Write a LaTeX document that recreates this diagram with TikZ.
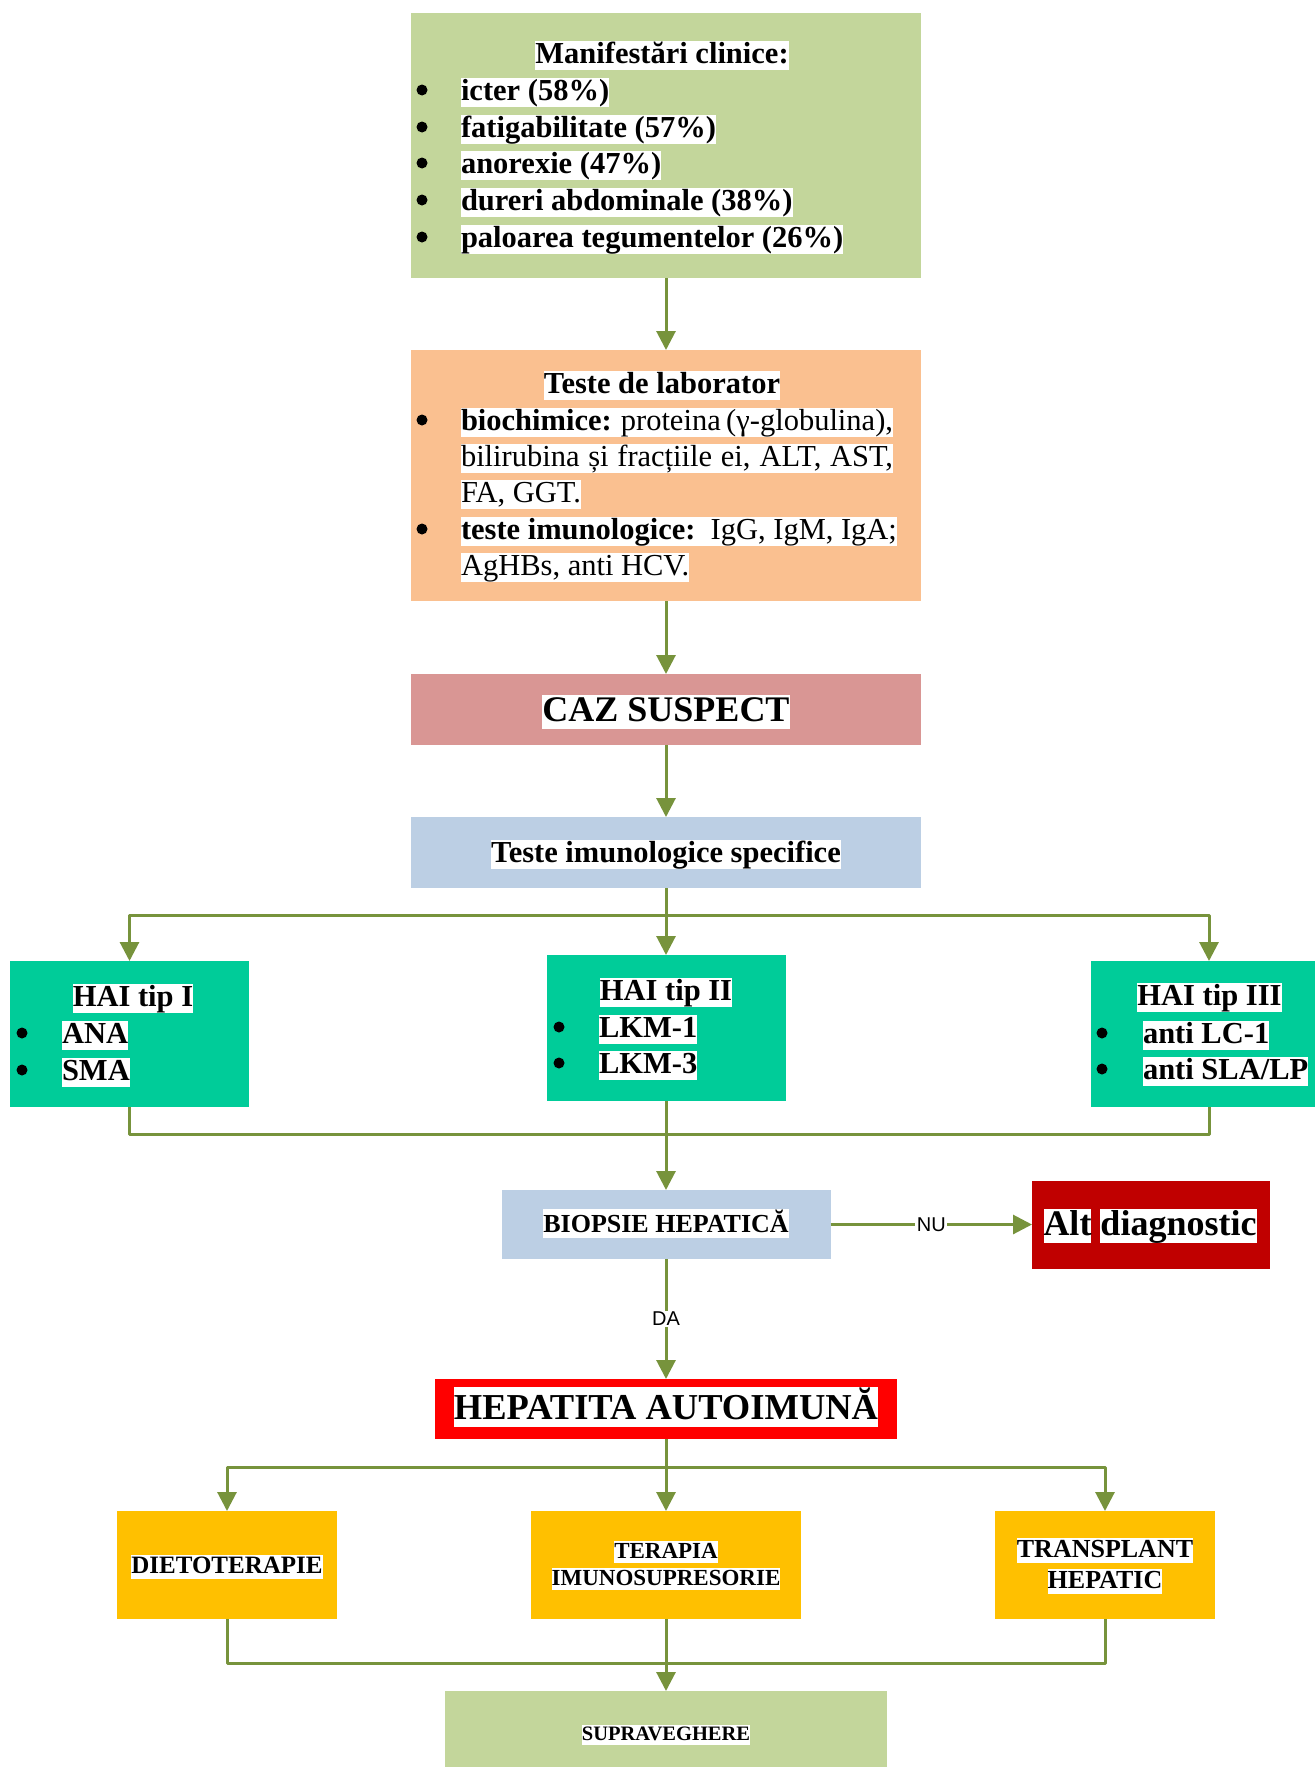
\documentclass[tikz,border=0pt]{standalone}
\usepackage{fontspec}
\setmainfont{Liberation Serif}
\newfontfamily\arialf{Liberation Sans}
\usetikzlibrary{arrows.meta}
\definecolor{cOlive}{HTML}{C3D69B}
\definecolor{cPeach}{HTML}{FAC090}
\definecolor{cRose}{HTML}{D99694}
\definecolor{cBlue}{HTML}{BCCFE4}
\definecolor{cTeal}{HTML}{00CC99}
\definecolor{cDark}{HTML}{C00000}
\definecolor{cRed}{HTML}{FF0000}
\definecolor{cGold}{HTML}{FFC000}
\definecolor{cLine}{HTML}{77933C}
\newcommand\hl[1]{{\setlength{\fboxsep}{0pt}\colorbox{white}{\rule[-0.22em]{0pt}{0.95em}#1}}}
\newcommand\fsz[1]{\fontsize{#1bp}{#1bp}\selectfont}
\begin{document}
\begin{tikzpicture}[x=1bp,y=-1bp,
  box/.style={draw=none, inner sep=0pt, outer sep=0pt},
  txt/.style={anchor=base, inner sep=0pt, outer sep=0pt},
  txtl/.style={anchor=base west, inner sep=0pt, outer sep=0pt},
  dot/.style={circle, fill=black, inner sep=0pt, minimum size=11bp},
  conn/.style={draw=cLine, line width=3bp, line join=round},
  arr/.style={conn, -{Triangle[length=19bp,width=19bp]}},
  lbl/.style={fill=white, inner sep=1.5bp, font=\arialf\fsz{20}},
  f30/.style={font=\fsz{30.5}},
]
\useasboundingbox (0,0) rectangle (1315,1767);

% ---------- boxes ----------
\node[box, fill=cOlive, minimum width=510bp, minimum height=265bp] (clin) at (666,145.5) {};
\node[box, fill=cPeach, minimum width=510bp, minimum height=251bp] (lab) at (666,475.5) {};
\node[box, fill=cRose, minimum width=510bp, minimum height=71bp] (caz) at (666,709.5) {};
\node[box, fill=cBlue, minimum width=510bp, minimum height=71bp] (imun) at (666,852.5) {};
\node[box, fill=cTeal, minimum width=239bp, minimum height=146bp] (hai1) at (129.5,1034) {};
\node[box, fill=cTeal, minimum width=239bp, minimum height=146bp] (hai2) at (666,1028) {};
\node[box, fill=cTeal, minimum width=236bp, minimum height=146bp] (hai3) at (1209,1034) {};
\node[box, fill=cBlue, minimum width=329bp, minimum height=69bp] (bio) at (666,1224.5) {};
\node[box, fill=cDark, minimum width=238bp, minimum height=88bp] (alt) at (1151,1224.5) {};
\node[box, fill=cRed, minimum width=462bp, minimum height=60bp] (hep) at (666,1409) {};
\node[box, fill=cGold, minimum width=220bp, minimum height=108bp] (die) at (227,1565) {};
\node[box, fill=cGold, minimum width=270bp, minimum height=108bp] (ter) at (666,1565) {};
\node[box, fill=cGold, minimum width=220bp, minimum height=108bp] (tra) at (1105,1565) {};
\node[box, fill=cOlive, minimum width=442bp, minimum height=99bp] (sup) at (666,1740.5) {};

% ---------- texts ----------
% Manifestari clinice
\node[txt, f30] (clinT) at (662,63) {\bfseries\hl{Manifestări clinice:}};
\node[dot] (clinB1) at (422,90) {};
\node[dot] (clinB2) at (422,127) {};
\node[dot] (clinB3) at (422,163) {};
\node[dot] (clinB4) at (422,200) {};
\node[dot] (clinB5) at (422,237) {};
\node[txtl, f30] (clinI1) at (461,100) {\bfseries\hl{icter (58\%)}};
\node[txtl, f30] (clinI2) at (461,137) {\bfseries\hl{fatigabilitate (57\%)}};
\node[txtl, f30] (clinI3) at (461,173) {\bfseries\hl{anorexie (47\%)}};
\node[txtl, f30] (clinI4) at (461,210) {\bfseries\hl{dureri abdominale (38\%)}};
\node[txtl, f30] (clinI5) at (461,247) {\bfseries\hl{paloarea tegumentelor (26\%)}};

% Teste de laborator
\node[txt, f30] (labT) at (662,393) {\bfseries\hl{Teste de laborator}};
\node[dot] (labB1) at (422,420) {};
\node[dot] (labB2) at (422,529) {};
\node[txtl, f30] (labL1) at (461,430) {\hl{\makebox[432bp][s]{\textbf{biochimice:} proteina (γ-globulina),}}};
\node[txtl, f30] (labL2) at (461,466) {\hl{\makebox[432bp][s]{bilirubina și fracțiile ei, ALT, AST,}}};
\node[txtl, f30] (labL3) at (461,502) {\hl{FA, GGT.}};
\node[txtl, f30] (labL4) at (461,539) {\hl{\makebox[436bp][s]{\textbf{teste imunologice:}\ \ IgG, IgM, IgA;}}};
\node[txtl, f30] (labL5) at (461,575) {\hl{AgHBs, anti HCV.}};

% single line boxes
\node[txt, font=\fsz{36}] (cazT) at (666,721) {\bfseries\hl{CAZ SUSPECT}};
\node[txt, f30] (imunT) at (666,862) {\bfseries\hl{Teste imunologice specifice}};

% HAI boxes
\node[txt, f30] (hai1T) at (133,1006) {\bfseries\hl{HAI tip I}};
\node[dot] (hai1B1) at (22,1033) {};
\node[dot] (hai1B2) at (22,1070) {};
\node[txtl, f30] (hai1I1) at (62,1043) {\bfseries\hl{ANA}};
\node[txtl, f30] (hai1I2) at (62,1080) {\bfseries\hl{SMA}};

\node[txt, f30] (hai2T) at (666,1000) {\bfseries\hl{HAI tip II}};
\node[dot] (hai2B1) at (559,1027) {};
\node[dot] (hai2B2) at (559,1063) {};
\node[txtl, f30] (hai2I1) at (599,1037) {\bfseries\hl{LKM-1}};
\node[txtl, f30] (hai2I2) at (599,1073) {\bfseries\hl{LKM-3}};

\node[txt, f30] (hai3T) at (1209.5,1005) {\bfseries\hl{HAI tip III}};
\node[dot] (hai3B1) at (1102,1033) {};
\node[dot] (hai3B2) at (1102,1069) {};
\node[txtl, f30] (hai3I1) at (1143,1043) {\bfseries\hl{anti LC-1}};
\node[txtl, f30] (hai3I2) at (1143,1079) {\bfseries\hl{anti SLA/LP}};

\node[txt, font=\fsz{26}] (bioT) at (666,1232) {\bfseries\hl{BIOPSIE HEPATICĂ}};
\node[txt, font=\fsz{36}] (altT) at (1150,1235) {\bfseries\hl{Alt} \hl{diagnostic}};
\node[txt, font=\fsz{36.5}] (hepT) at (666,1419) {\bfseries\hl{HEPATITA AUTOIMUNĂ}};

\node[txt, font=\fsz{25}] (dieT) at (227,1573) {\bfseries\hl{DIETOTERAPIE}};
\node[txt, font=\fsz{23}] (terT1) at (666,1558) {\bfseries\hl{TERAPIA}};
\node[txt, font=\fsz{23}] (terT2) at (666,1585) {\bfseries\hl{IMUNOSUPRESORIE}};
\node[txt, font=\fsz{26}] (traT1) at (1105,1557) {\bfseries\hl{TRANSPLANT}};
\node[txt, font=\fsz{26}] (traT2) at (1105,1588) {\bfseries\hl{HEPATIC}};
\node[txt, font=\fsz{20.5}] (supT) at (666,1740) {\bfseries\hl{SUPRAVEGHERE}};

% ---------- connectors ----------
\draw[arr] (clin.south) -- (lab.north);
\draw[arr] (lab.south) -- (caz.north);
\draw[arr] (caz.south) -- (imun.north);
\draw[arr] (imun.south) -- (hai2.north);
\coordinate (br1) at (666,915);
\draw[arr] (br1) -| (hai1.north);
\draw[arr] (br1) -| (hai3.north);
\coordinate (mg1) at (666,1134);
\draw[conn] (hai1.south) |- (mg1);
\draw[conn] (hai3.south) |- (mg1);
\draw[arr] (hai2.south) -- (bio.north);
\draw[arr] (bio.east) -- node[lbl] (nu) {NU} (alt.west);
\draw[arr] (bio.south) -- node[lbl] (da) {DA} (hep.north);
\draw[arr] (hep.south) -- (ter.north);
\coordinate (br2) at (666,1467);
\draw[arr] (br2) -| (die.north);
\draw[arr] (br2) -| (tra.north);
\coordinate (mg2) at (666,1663);
\draw[conn] (die.south) |- (mg2);
\draw[conn] (tra.south) |- (mg2);
\draw[arr] (ter.south) -- (sup.north);
\end{tikzpicture}
\end{document}
